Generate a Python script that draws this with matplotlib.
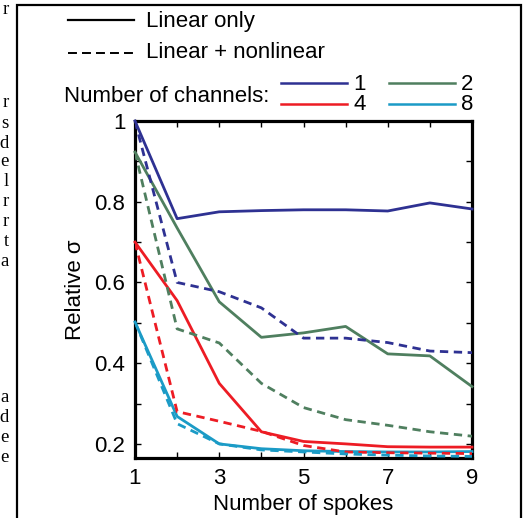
import matplotlib
matplotlib.use("Agg")
import matplotlib.pyplot as plt
from matplotlib.lines import Line2D
from matplotlib.patches import Rectangle

plt.rcParams['font.family'] = ['Liberation Sans', 'DejaVu Sans']

spokes = [1, 2, 3, 4, 5, 6, 7, 8, 9]

# relative sigma, linear only
lin_1 = [1.0, 0.758, 0.775, 0.778, 0.780, 0.780, 0.777, 0.797, 0.782]
lin_2 = [0.923, 0.735, 0.552, 0.464, 0.475, 0.491, 0.423, 0.418, 0.342]
lin_4 = [0.700, 0.555, 0.350, 0.230, 0.206, 0.200, 0.193, 0.192, 0.192]
lin_8 = [0.502, 0.268, 0.200, 0.188, 0.183, 0.181, 0.180, 0.180, 0.181]

# relative sigma, linear + nonlinear
nl_1 = [1.0, 0.600, 0.577, 0.537, 0.462, 0.462, 0.451, 0.430, 0.426]
nl_2 = [0.923, 0.485, 0.450, 0.350, 0.290, 0.260, 0.246, 0.230, 0.219]
nl_4 = [0.700, 0.280, 0.256, 0.231, 0.196, 0.180, 0.178, 0.177, 0.176]
nl_8 = [0.502, 0.250, 0.200, 0.185, 0.180, 0.175, 0.172, 0.170, 0.169]

channels = ['1', '2', '4', '8']
colors = ['#2e3192', '#4f7f5f', '#ed1c24', '#1b9bc6']

xticks = [1, 3, 5, 7, 9]
yticks = [0.2, 0.4, 0.6, 0.8, 1.0]
ytick_labels = ['0.2', '0.4', '0.6', '0.8', '1']

# cut-off letters from the neighbouring text column
margin_letters = ['r', 'r', 's', 'd', 'e', 'l', 'r', 'r', 't', 'a', 'a', 'd', 'e', 'e']
margin_rows = [10, 103, 123, 143, 162, 182, 202, 222, 242, 262, 397, 417, 437, 457]

W, H = 527, 518


def fx(px):
    return px / W


def fy(py):
    return 1 - py / H


fig = plt.figure(figsize=(W / 100, H / 100), dpi=100)
ax = fig.add_axes([fx(135), fy(458), fx(472) - fx(135), fy(121) - fy(458)])

lw = 2.0
for ys, c in zip([lin_1, lin_2, lin_4, lin_8], colors):
    ax.plot(spokes, ys, color=c, lw=lw, clip_on=False, zorder=3)
for ys, c in zip([nl_1, nl_2, nl_4, nl_8], colors):
    ax.plot(spokes, ys, color=c, lw=lw, dashes=(3, 2), clip_on=True, zorder=3)

ax.set_xlim(1, 9)
ax.set_ylim(0.165, 1.0)
ax.set_xticks(range(1, 10))
ax.set_xticklabels([str(v) if v in xticks else '' for v in range(1, 10)])
ax.set_yticks([0.2, 0.3, 0.4, 0.5, 0.6, 0.7, 0.8, 0.9, 1.0])
ax.set_yticklabels([ytick_labels[yticks.index(v)] if v in yticks else ''
                    for v in [0.2, 0.3, 0.4, 0.5, 0.6, 0.7, 0.8, 0.9, 1.0]])
ax.tick_params(direction='in', length=4, width=1, top=True, right=True,
               labelsize=16, pad=7)
for s in ax.spines.values():
    s.set_linewidth(2.3)
ax.set_xlabel('Number of spokes', fontsize=16, labelpad=4)
ax.set_ylabel('Relative σ', fontsize=16, labelpad=6)

# legend drawn by hand
fig.add_artist(Line2D([fx(68), fx(134)], [fy(20), fy(20)], color='black', lw=1.6))
fig.text(fx(146), fy(21), 'Linear only', fontsize=16, va='center')
fig.add_artist(Line2D([fx(68), fx(134)], [fy(53), fy(53)], color='black', lw=1.4,
                      dashes=(4.6, 2.6)))
fig.text(fx(146), fy(53), 'Linear + nonlinear', fontsize=16, va='center')
fig.text(fx(64), fy(96), 'Number of channels:', fontsize=16, va='center')

leg_x = {'1': 281, '2': 389, '4': 281, '8': 389}
leg_y = {'1': 83, '2': 83, '4': 104, '8': 104}
for ch, c in zip(channels, colors):
    x0, y0 = leg_x[ch], leg_y[ch]
    fig.add_artist(Line2D([fx(x0), fx(x0 + 66)], [fy(y0), fy(y0)], color=c, lw=1.8))
    fig.text(fx(x0 + 72), fy(y0 + 1), ch, fontsize=16, va='center')

# outer frame of the figure panel
fig.add_artist(Rectangle((fx(17), fy(530)), fx(521) - fx(17), fy(5) - fy(530),
                         fill=False, edgecolor='black', lw=1.6))

for ch, py in zip(margin_letters, margin_rows):
    fig.text(fx(9), fy(py), ch, fontsize=13.5, ha='right', va='center',
             family=['Liberation Serif', 'DejaVu Serif'])

fig.savefig('out.png', dpi=100)
